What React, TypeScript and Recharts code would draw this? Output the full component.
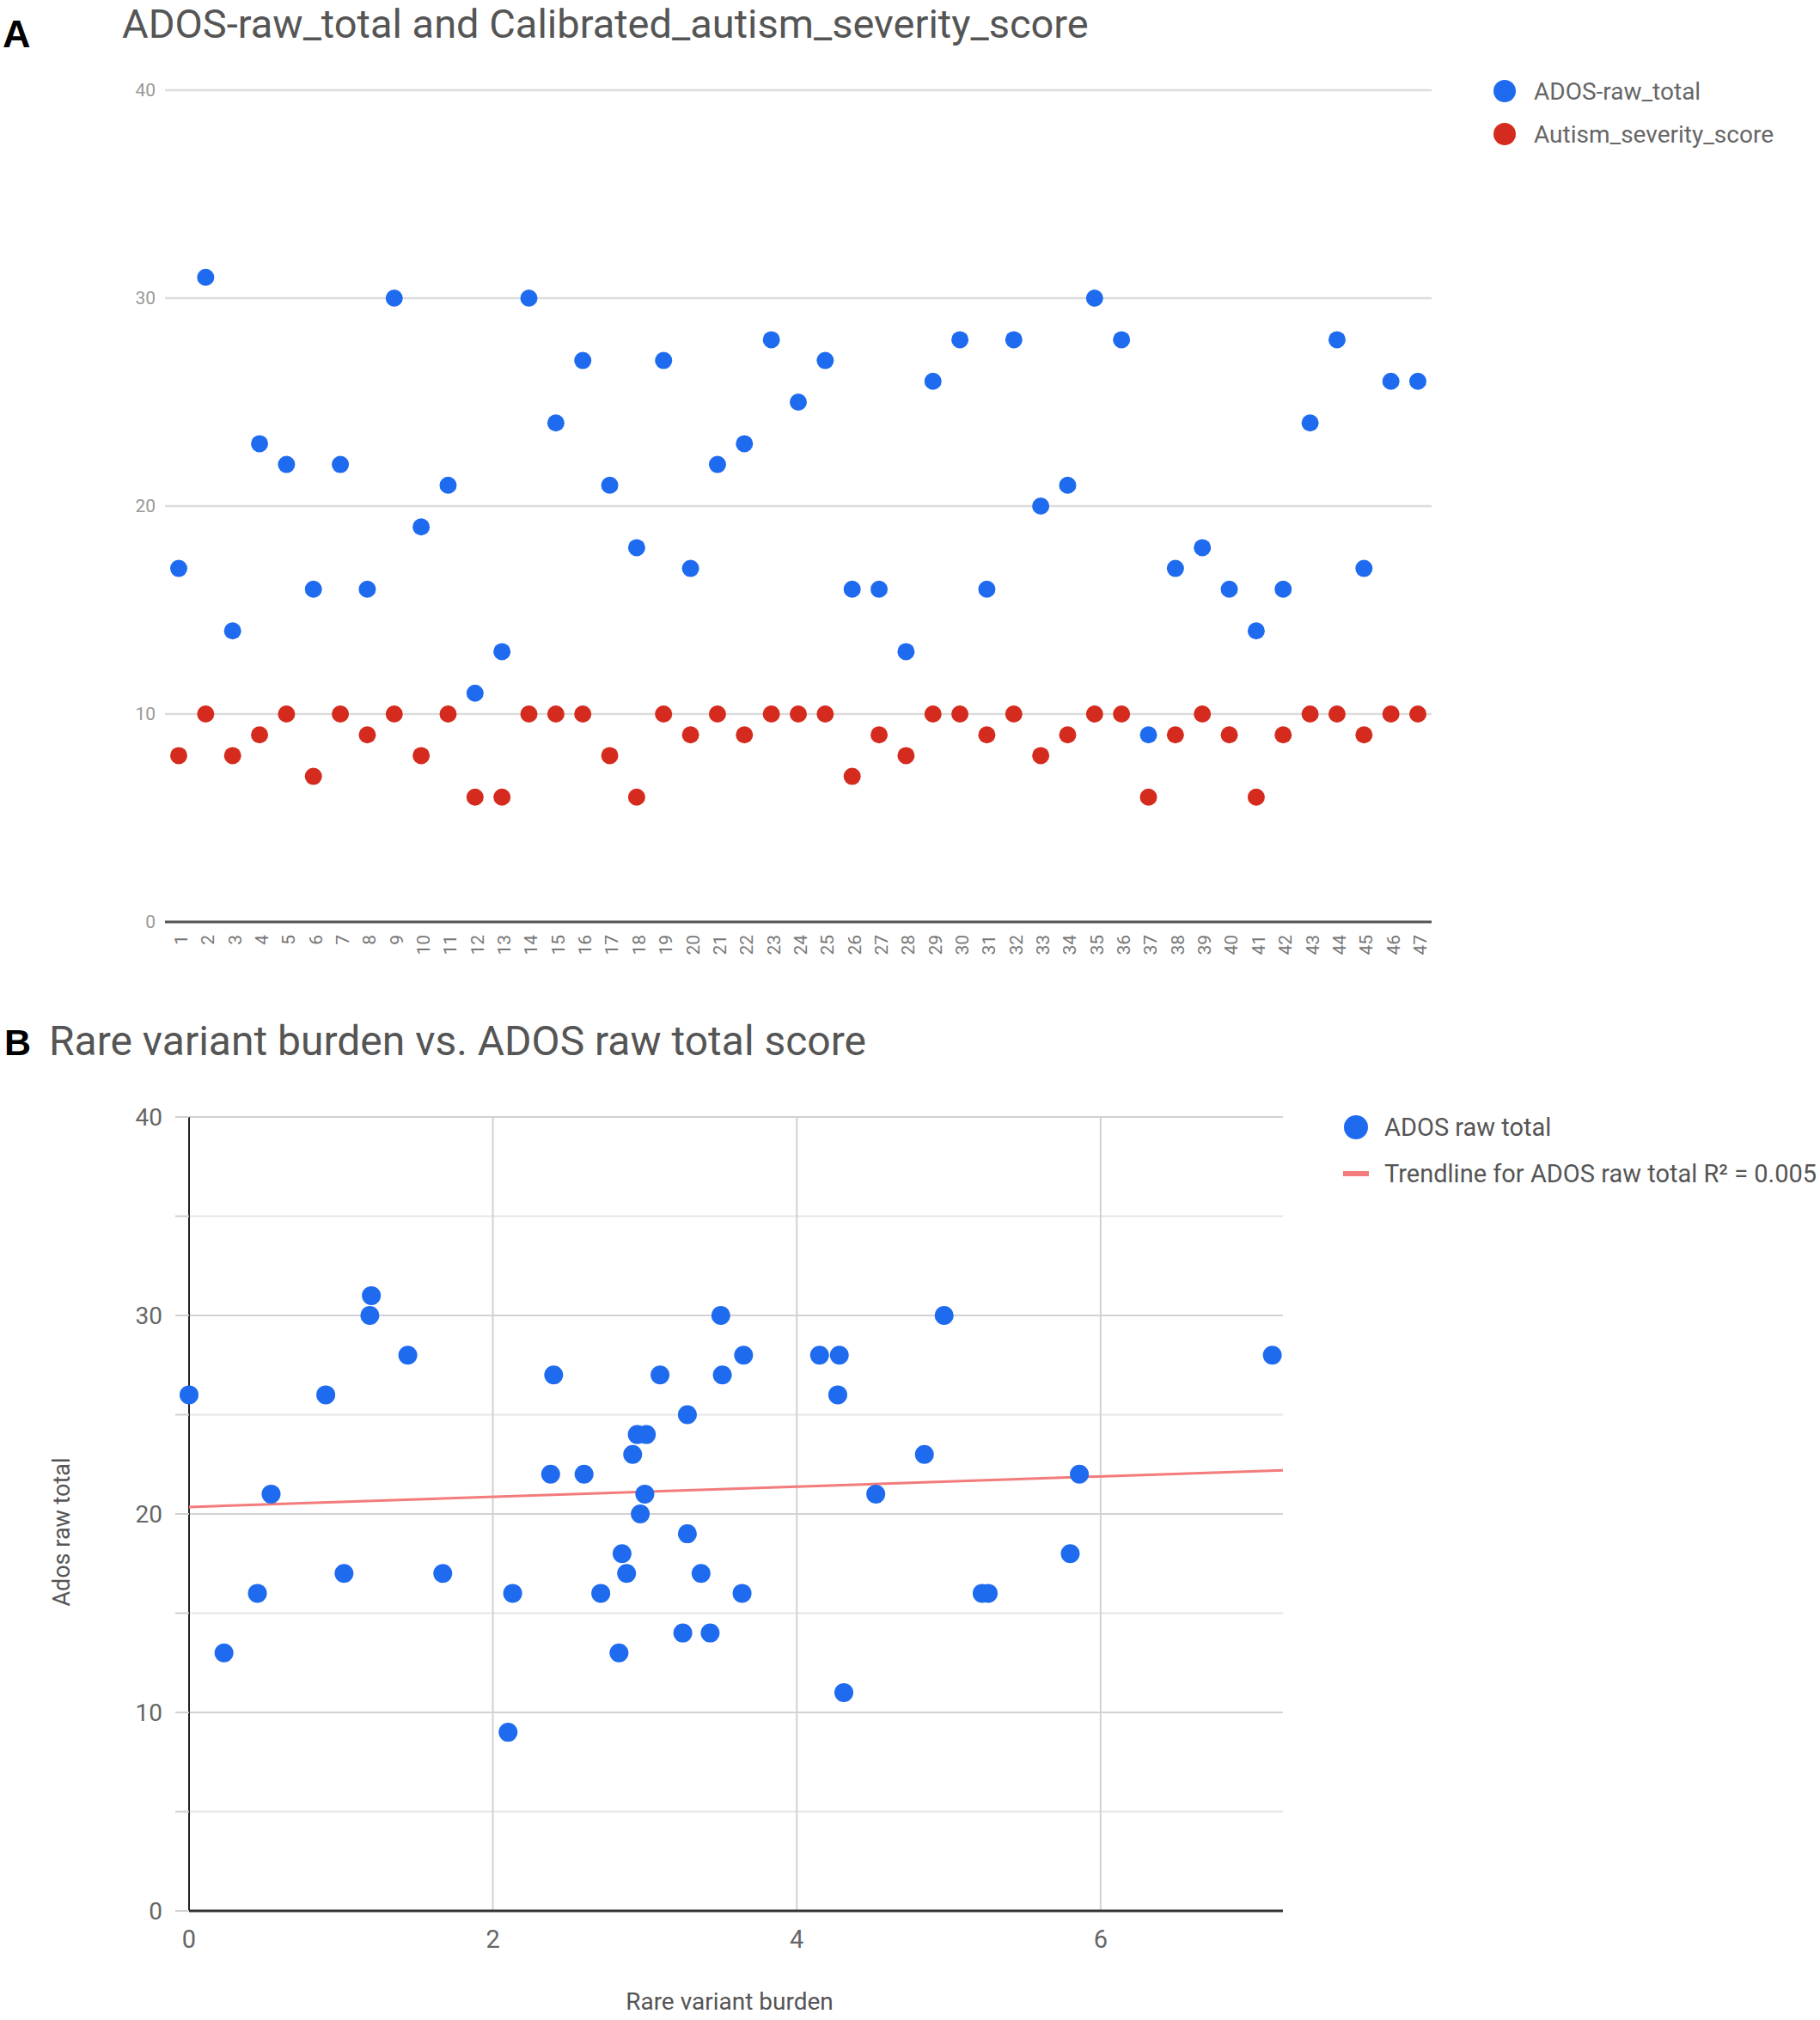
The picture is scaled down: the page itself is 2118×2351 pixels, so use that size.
import { CartesianGrid, ComposedChart, Legend, Scatter, XAxis, YAxis } from 'recharts'

// Panel A: per-subject scores
const SUBJECTS = [
  '1', '2', '3', '4', '5', '6', '7', '8', '9', '10', '11', '12', '13', '14', '15', '16',
  '17', '18', '19', '20', '21', '22', '23', '24', '25', '26', '27', '28', '29', '30', '31',
  '32', '33', '34', '35', '36', '37', '38', '39', '40', '41', '42', '43', '44', '45', '46', '47',
]
const ADOS_RAW_TOTAL = [
  17, 31, 14, 23, 22, 16, 22, 16, 30, 19, 21, 11, 13, 30, 24, 27, 21, 18, 27, 17, 22, 23, 28, 25,
  27, 16, 16, 13, 26, 28, 16, 28, 20, 21, 30, 28, 9, 17, 18, 16, 14, 16, 24, 28, 17, 26, 26,
]
const SEVERITY_SCORE = [
  8, 10, 8, 9, 10, 7, 10, 9, 10, 8, 10, 6, 6, 10, 10, 10, 8, 6, 10, 9, 10, 9, 10, 10,
  10, 7, 9, 8, 10, 10, 9, 10, 8, 9, 10, 10, 6, 9, 10, 9, 6, 9, 10, 10, 9, 10, 10,
]
const A_Y_TICKS = [0, 10, 20, 30, 40]

// Panel B: burden vs raw total
const BURDEN = [
  0, 0.23, 0.45, 0.54, 0.9, 1.02, 1.2, 1.19, 1.44, 1.67, 2.1, 2.13, 2.38, 2.4, 2.6, 2.71, 2.83,
  2.85, 2.88, 2.92, 2.95, 3.01, 2.97, 3.0, 3.1, 3.25, 3.28, 3.28, 3.37, 3.43, 3.5, 3.51, 3.64,
  3.65, 4.15, 4.28, 4.27, 4.31, 4.52, 4.84, 4.97, 5.22, 5.26, 5.8, 5.86, 7.13,
]
const ADOS_B = [
  26, 13, 16, 21, 26, 17, 31, 30, 28, 17, 9, 16, 22, 27, 22, 16, 13, 18, 17, 23, 24, 24, 20,
  21, 27, 14, 19, 25, 17, 14, 30, 27, 16, 28, 28, 28, 26, 11, 21, 23, 30, 16, 16, 18, 22, 28,
]
const TREND_X = [0, 7.2]
const TREND_Y = [20.35, 22.2]
const B_X_TICKS = [0, 2, 4, 6]
const B_Y_TICKS = [0, 5, 10, 15, 20, 25, 30, 35, 40]
const B_Y_MAJOR = [0, 10, 20, 30, 40]
const B_Y_MINOR = [5, 15, 25, 35]

const BLUE = '#1f6bef'
const RED = '#d52b1e'
const TREND = '#f37b7b'

const rowsA = SUBJECTS.map((s, i) => ({ subject: s, ados: ADOS_RAW_TOTAL[i], severity: SEVERITY_SCORE[i] }))
const rowsB = BURDEN.map((b, i) => ({ burden: b, ados: ADOS_B[i] }))
const trendRows = TREND_X.map((x, i) => ({ burden: x, ados: TREND_Y[i] }))

const dot = (r: number, fill: string) => (props: any) => (
  <circle cx={props.cx} cy={props.cy} r={r} fill={fill} />
)

function LegendA() {
  const items = [
    { label: 'ADOS-raw_total', color: BLUE },
    { label: 'Autism_severity_score', color: RED },
  ]
  return (
    <div style={{ fontFamily: 'Roboto', fontSize: 28, color: '#666' }}>
      {items.map((it) => (
        <div key={it.label} style={{ display: 'flex', alignItems: 'center', height: 50, whiteSpace: 'nowrap' }}>
          <svg width={28} height={28} style={{ marginRight: 20 }}>
            <circle cx={14} cy={14} r={13} fill={it.color} />
          </svg>
          <span>{it.label}</span>
        </div>
      ))}
    </div>
  )
}

function LegendB() {
  return (
    <div style={{ fontFamily: 'Roboto', fontSize: 29, color: '#555' }}>
      <div style={{ display: 'flex', alignItems: 'center', height: 54 }}>
        <svg width={30} height={30} style={{ marginRight: 18 }}>
          <circle cx={15} cy={15} r={14} fill={BLUE} />
        </svg>
        <span>ADOS raw total</span>
      </div>
      <div style={{ display: 'flex', alignItems: 'center', height: 54, whiteSpace: 'nowrap' }}>
        <svg width={30} height={30} style={{ marginRight: 18 }}>
          <rect x={0} y={12} width={30} height={6} fill={TREND} />
        </svg>
        <span>Trendline for ADOS raw total R² = 0.005</span>
      </div>
    </div>
  )
}

export default function App() {
  return (
    <div
      style={{
        position: 'absolute',
        left: 0,
        top: 0,
        width: 2118,
        height: 2351,
        background: '#fff',
        fontFamily: 'Roboto',
        overflow: 'hidden',
      }}
    >
      {/* Panel A */}
      <div style={{ position: 'absolute', left: 3, top: 17, fontFamily: 'Liberation Sans', fontWeight: 'bold', fontSize: 45, lineHeight: '45px' }}>
        A
      </div>
      <div style={{ position: 'absolute', left: 142, top: 4, fontSize: 47, lineHeight: '47px', color: '#555', whiteSpace: 'nowrap' }}>
        ADOS-raw_total and Calibrated_autism_severity_score
      </div>
      <div style={{ position: 'absolute', left: 0, top: 0 }}>
        <ComposedChart width={2118} height={1140} data={rowsA} margin={{ top: 105, right: 452, bottom: 0, left: 132 }}>
          <CartesianGrid vertical={false} stroke="#dcdcdc" strokeWidth={2.5} />
          <XAxis
            dataKey="subject"
            type="category"
            interval={0}
            height={67}
            padding={{ left: 16, right: 16 }}
            stroke="#555"
            strokeWidth={3}
            tickLine={false}
            tickSize={0}
            tickMargin={15}
            tick={{ angle: -90, textAnchor: 'end', verticalAnchor: 'middle', dx: -5, fontSize: 21, fill: '#777', fontFamily: 'Roboto' }}
          />
          <YAxis
            domain={[0, 40]}
            ticks={A_Y_TICKS}
            width={60}
            axisLine={false}
            tickLine={false}
            tickSize={0}
            tickMargin={11}
            tick={{ fontSize: 21, fill: '#999', fontFamily: 'Roboto' }}
          />
          <Legend
            layout="vertical"
            align="center"
            verticalAlign="middle"
            wrapperStyle={{ left: 1737, top: 81, width: 380, height: 'auto' }}
            content={() => <LegendA />}
          />
          <Scatter name="ADOS-raw_total" dataKey="ados" fill={BLUE} shape={dot(10, BLUE)} isAnimationActive={false} />
          <Scatter name="Autism_severity_score" dataKey="severity" fill={RED} shape={dot(10, RED)} isAnimationActive={false} />
        </ComposedChart>
      </div>

      {/* Panel B */}
      <div style={{ position: 'absolute', left: 5, top: 1192, fontFamily: 'Liberation Sans', fontWeight: 'bold', fontSize: 43, lineHeight: '43px' }}>
        B
      </div>
      <div style={{ position: 'absolute', left: 57, top: 1188, fontSize: 48, lineHeight: '48px', color: '#555', whiteSpace: 'nowrap' }}>
        Rare variant burden vs. ADOS raw total score
      </div>
      <div style={{ position: 'absolute', left: 0, top: 1150 }}>
        <ComposedChart width={2118} height={1201} margin={{ top: 150, right: 625, bottom: 67, left: 120 }}>
          <CartesianGrid vertical={false} horizontalValues={B_Y_MINOR} stroke="#e6e6e6" strokeWidth={2} />
          <CartesianGrid verticalValues={[2, 4, 6]} horizontalValues={B_Y_MAJOR} stroke="#d2d2d2" strokeWidth={2} />
          <XAxis
            dataKey="burden"
            type="number"
            domain={[0, 7.2]}
            ticks={B_X_TICKS}
            height={60}
            stroke="#333"
            strokeWidth={3}
            tickLine={false}
            tickSize={0}
            tickMargin={22}
            tick={{ fontSize: 29, fill: '#666', fontFamily: 'Roboto' }}
          />
          <YAxis
            dataKey="ados"
            type="number"
            domain={[0, 40]}
            ticks={B_Y_TICKS}
            width={100}
            stroke="#222"
            strokeWidth={2}
            tickLine={{ stroke: '#d0d0d0', strokeWidth: 2 }}
            tickSize={16}
            tickMargin={15}
            tickFormatter={(v: number) => (v % 10 === 0 ? String(v) : '')}
            tick={{ fontSize: 28, fill: '#666', fontFamily: 'Roboto' }}
          />
          <Legend
            layout="vertical"
            align="center"
            verticalAlign="middle"
            wrapperStyle={{ left: 1563, top: 1285 - 1150, width: 560, height: 'auto' }}
            content={() => <LegendB />}
          />
          <Scatter
            name="Trendline for ADOS raw total"
            data={trendRows}
            dataKey="ados"
            line={{ stroke: TREND, strokeWidth: 3 }}
            shape={() => <g />}
            isAnimationActive={false}
          />
          <Scatter name="ADOS raw total" data={rowsB} dataKey="ados" fill={BLUE} shape={dot(11, BLUE)} isAnimationActive={false} />
        </ComposedChart>
      </div>
      <div style={{ position: 'absolute', left: 849, top: 2316, transform: 'translateX(-50%)', fontSize: 28, lineHeight: '28px', color: '#555', whiteSpace: 'nowrap' }}>
        Rare variant burden
      </div>
      <div
        style={{
          position: 'absolute',
          left: 72,
          top: 1783,
          transform: 'translate(-50%, -50%) rotate(-90deg)',
          fontSize: 27,
          lineHeight: '27px',
          color: '#555',
          whiteSpace: 'nowrap',
        }}
      >
        Ados raw total
      </div>
    </div>
  )
}
